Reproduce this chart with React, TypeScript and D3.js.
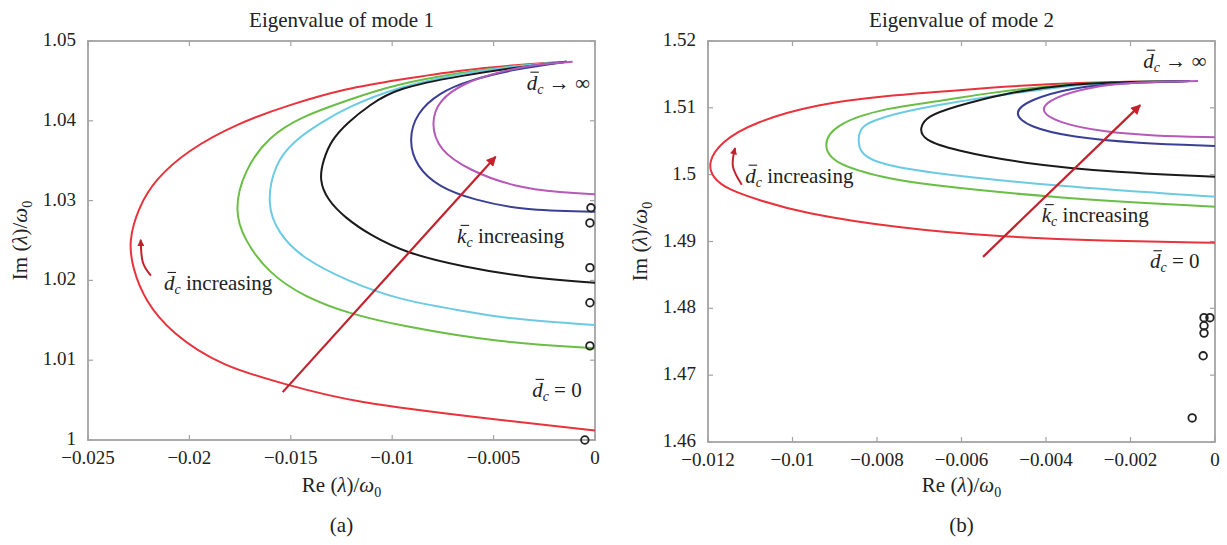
import * as d3 from 'd3'
import React from 'react'

type Pt = [number, number]

// mode 1 loci, [Re, Im], from d_c = 0 (right edge) round to d_c -> inf
const m1Red: Pt[] = [[0, 1.0012], [-0.0047, 1.0025], [-0.0122, 1.0048], [-0.0151, 1.0069], [-0.0184, 1.0092], [-0.0209, 1.0134], [-0.0222, 1.0175], [-0.0228, 1.0215], [-0.023, 1.025], [-0.0225, 1.0292], [-0.0217, 1.0326], [-0.0201, 1.0363], [-0.0176, 1.0397], [-0.0151, 1.042], [-0.0122, 1.0441], [-0.0098, 1.0451], [-0.0065, 1.0464], [-0.0039, 1.047], [-0.0014, 1.0474]]
const m1Green: Pt[] = [[0, 1.0115], [-0.0047, 1.0122], [-0.0096, 1.0143], [-0.0122, 1.0159], [-0.0143, 1.0179], [-0.0161, 1.0209], [-0.0173, 1.0251], [-0.0178, 1.0288], [-0.0173, 1.0338], [-0.0161, 1.038], [-0.0145, 1.0405], [-0.0122, 1.0426], [-0.0098, 1.0446], [-0.0065, 1.0461], [-0.0039, 1.0469], [-0.0014, 1.0474]]
const m1Cyan: Pt[] = [[0, 1.0144], [-0.0047, 1.0153], [-0.0065, 1.0162], [-0.0096, 1.0175], [-0.0122, 1.0199], [-0.0145, 1.0229], [-0.0156, 1.0259], [-0.0162, 1.0294], [-0.0158, 1.0347], [-0.0148, 1.0376], [-0.0135, 1.0398], [-0.0122, 1.0417], [-0.0098, 1.0442], [-0.0065, 1.046], [-0.0039, 1.0469], [-0.0014, 1.0474]]
const m1Black: Pt[] = [[0, 1.0197], [-0.0032, 1.0203], [-0.0065, 1.0217], [-0.0093, 1.0234], [-0.0111, 1.0257], [-0.0123, 1.0278], [-0.0132, 1.0301], [-0.0136, 1.0326], [-0.0134, 1.0351], [-0.013, 1.0376], [-0.0122, 1.0398], [-0.0111, 1.042], [-0.0098, 1.0441], [-0.0065, 1.0457], [-0.0039, 1.0467], [-0.0014, 1.0474]]
const m1Blue: Pt[] = [[0, 1.0286], [-0.0036, 1.0288], [-0.006, 1.0301], [-0.0077, 1.0317], [-0.0088, 1.0342], [-0.0092, 1.0376], [-0.0088, 1.041], [-0.0077, 1.0435], [-0.0062, 1.0451], [-0.0039, 1.0465], [-0.0014, 1.0474]]
const m1Purple: Pt[] = [[0, 1.0308], [-0.0016, 1.031], [-0.004, 1.0317], [-0.0062, 1.0338], [-0.0077, 1.0363], [-0.0081, 1.0397], [-0.0077, 1.0426], [-0.0065, 1.0447], [-0.0048, 1.0461], [-0.0029, 1.0471], [-0.0011, 1.0474]]
const m1Open: Pt[] = [[-0.0002, 1.0291], [-0.00025, 1.0272], [-0.00025, 1.0216], [-0.00025, 1.0172], [-0.00025, 1.0118], [-0.0005, 1.0]]

// mode 2 loci
const m2Red: Pt[] = [[0, 1.4898], [-0.0027, 1.4901], [-0.0051, 1.4907], [-0.0075, 1.492], [-0.0098, 1.4943], [-0.0108, 1.4962], [-0.0115, 1.4977], [-0.0119, 1.4995], [-0.012, 1.5019], [-0.0117, 1.5049], [-0.0109, 1.5079], [-0.0094, 1.5106], [-0.0078, 1.5118], [-0.0065, 1.5124], [-0.0054, 1.513], [-0.0038, 1.5136], [-0.0023, 1.5139], [-0.0006, 1.514]]
const m2Green: Pt[] = [[0, 1.4952], [-0.0038, 1.4965], [-0.007, 1.4986], [-0.0078, 1.4995], [-0.009, 1.5015], [-0.0093, 1.5044], [-0.009, 1.5076], [-0.0078, 1.51], [-0.0065, 1.511], [-0.0054, 1.5122], [-0.0038, 1.5134], [-0.0023, 1.5139], [-0.0006, 1.514]]
const m2Cyan: Pt[] = [[0, 1.4967], [-0.0038, 1.4983], [-0.007, 1.5004], [-0.0081, 1.5019], [-0.0084, 1.5034], [-0.00845, 1.5052], [-0.0084, 1.507], [-0.0081, 1.5082], [-0.007, 1.51], [-0.0054, 1.5116], [-0.0038, 1.5131], [-0.0023, 1.5139], [-0.0006, 1.514]]
const m2Black: Pt[] = [[0, 1.4997], [-0.0023, 1.5003], [-0.0046, 1.5017], [-0.0062, 1.5037], [-0.0069, 1.5052], [-0.007, 1.507], [-0.0068, 1.5088], [-0.0062, 1.5101], [-0.005, 1.5122], [-0.0034, 1.5136], [-0.002, 1.5139], [-0.0006, 1.514]]
const m2Blue: Pt[] = [[0, 1.5043], [-0.00185, 1.5047], [-0.0034, 1.5056], [-0.0044, 1.5071], [-0.0048, 1.5092], [-0.0044, 1.5112], [-0.0034, 1.513], [-0.0023, 1.5137], [-0.0006, 1.514]]
const m2Purple: Pt[] = [[0, 1.5056], [-0.00147, 1.5058], [-0.00265, 1.5064], [-0.0037, 1.5077], [-0.0042, 1.5097], [-0.0038, 1.5116], [-0.003, 1.5131], [-0.00185, 1.5139], [-0.0004, 1.514]]
const m2Open: Pt[] = [[-0.00026, 1.4786], [-0.00012, 1.4786], [-0.00026, 1.4774], [-0.00026, 1.4763], [-0.00028, 1.4729], [-0.00054, 1.4636]]

const lineColors = ['#e8323c', '#6abd45', '#6ccbe3', '#1a1a1a', '#3a3f94', '#b659b8']

const xTicks1 = [-0.025, -0.02, -0.015, -0.01, -0.005, 0]
const yTicks1 = [1, 1.01, 1.02, 1.03, 1.04, 1.05]
const xTicks2 = [-0.012, -0.01, -0.008, -0.006, -0.004, -0.002, 0]
const yTicks2 = [1.46, 1.47, 1.48, 1.49, 1.5, 1.51, 1.52]

// annotation anchors in data units
const arrow1: Pt[] = [[-0.0154, 1.006], [-0.0049, 1.0355]]
const curl1: Pt[] = [[-0.0219, 1.0206], [-0.0223, 1.0223], [-0.0224, 1.0251]]
const arrow2: Pt[] = [[-0.00549, 1.4877], [-0.00177, 1.5104]]
const curl2: Pt[] = [[-0.0112, 1.4985], [-0.01141, 1.5012], [-0.01136, 1.504]]

interface Note { sym: string; rest: string; at: Pt }
const notes1: Note[] = [
  { sym: 'd', rest: ' → ∞', at: [-0.00336, 1.0439] },
  { sym: 'k', rest: ' increasing', at: [-0.0068, 1.0247] },
  { sym: 'd', rest: ' = 0', at: [-0.0031, 1.0054] },
  { sym: 'd', rest: ' increasing', at: [-0.02125, 1.0188] },
]
const notes2: Note[] = [
  { sym: 'd', rest: ' → ∞', at: [-0.0017, 1.516] },
  { sym: 'd', rest: ' increasing', at: [-0.01112, 1.4988] },
  { sym: 'k', rest: ' increasing', at: [-0.0041, 1.4929] },
  { sym: 'd', rest: ' = 0', at: [-0.00154, 1.486] },
]

const FONT = "'Liberation Serif', 'DejaVu Serif', serif"
const AXIS = '#a3a3a3'
const ARROW = '#c3222c'
const FS = 19 // tick labels
const LS = 21 // titles, axis labels, notes

const fmt = (v: number) => String(v).replace('-', '\u2212')

interface PanelProps {
  id: string
  box: { left: number; right: number; top: number; bottom: number }
  xDomain: [number, number]
  yDomain: [number, number]
  xTicks: number[]
  yTicks: number[]
  curves: Pt[][]
  open: Pt[]
  arrow: Pt[]
  curl: Pt[]
  notes: Note[]
  title: string
  tag: string
  yLabelX: number
}

const Panel = (p: PanelProps) => {
  const { box } = p
  const x = d3.scaleLinear().domain(p.xDomain).range([box.left, box.right])
  const y = d3.scaleLinear().domain(p.yDomain).range([box.bottom, box.top])
  const line = d3
    .line<Pt>()
    .x(d => x(d[0]))
    .y(d => y(d[1]))
    .curve(d3.curveBasis)
  const curlLine = d3
    .line<Pt>()
    .x(d => x(d[0]))
    .y(d => y(d[1]))
    .curve(d3.curveNatural)
  const cx = (box.left + box.right) / 2
  const cy = (box.top + box.bottom) / 2
  const tl = 5

  return (
    <g>
      <defs>
        <marker id={`big-${p.id}`} viewBox="0 0 10 10" refX="9" refY="5" markerUnits="userSpaceOnUse" markerWidth="13" markerHeight="10" orient="auto">
          <path d="M0,0 L10,5 L0,10 z" fill={ARROW} />
        </marker>
        <marker id={`small-${p.id}`} viewBox="0 0 10 10" refX="9" refY="5" markerUnits="userSpaceOnUse" markerWidth="9" markerHeight="7" orient="auto">
          <path d="M0,0 L10,5 L0,10 z" fill={ARROW} />
        </marker>
      </defs>

      <text x={cx} y={27} textAnchor="middle" fontSize={LS} fontFamily={FONT} fill="#222">
        {p.title}
      </text>

      {/* frame and inward ticks */}
      <rect x={box.left} y={box.top} width={box.right - box.left} height={box.bottom - box.top} fill="none" stroke={AXIS} strokeWidth={1.8} />
      {p.xTicks.map(t => (
        <g key={`xt${t}`}>
          <line x1={x(t)} x2={x(t)} y1={box.bottom} y2={box.bottom - tl} stroke={AXIS} strokeWidth={1.2} />
          <line x1={x(t)} x2={x(t)} y1={box.top} y2={box.top + tl} stroke={AXIS} strokeWidth={1.2} />
          <text x={x(t)} y={box.bottom + 24} textAnchor="middle" fontSize={FS} fontFamily={FONT} fill="#222">
            {fmt(t)}
          </text>
        </g>
      ))}
      {p.yTicks.map(t => (
        <g key={`yt${t}`}>
          <line x1={box.left} x2={box.left + tl} y1={y(t)} y2={y(t)} stroke={AXIS} strokeWidth={1.2} />
          <line x1={box.right} x2={box.right - tl} y1={y(t)} y2={y(t)} stroke={AXIS} strokeWidth={1.2} />
          <text x={box.left - 12} y={y(t) + 5} textAnchor="end" fontSize={FS} fontFamily={FONT} fill="#222">
            {fmt(t)}
          </text>
        </g>
      ))}

      {/* loci */}
      {p.curves.map((c, i) => (
        <path key={`c${i}`} d={line(c) ?? ''} fill="none" stroke={lineColors[i]} strokeWidth={2} />
      ))}
      {p.open.map((d, i) => (
        <circle key={`o${i}`} cx={x(d[0])} cy={y(d[1])} r={3.8} fill="none" stroke="#222" strokeWidth={1.8} />
      ))}

      {/* arrows */}
      <line x1={x(p.arrow[0][0])} y1={y(p.arrow[0][1])} x2={x(p.arrow[1][0])} y2={y(p.arrow[1][1])} stroke={ARROW} strokeWidth={2.2} markerEnd={`url(#big-${p.id})`} />
      <path d={curlLine(p.curl) ?? ''} fill="none" stroke={ARROW} strokeWidth={2} markerEnd={`url(#small-${p.id})`} />

      {p.notes.map((n, i) => (
        <text key={`n${i}`} x={x(n.at[0])} y={y(n.at[1])} fontSize={LS} fontFamily={FONT} fill="#222">
          <tspan fontStyle="italic">{n.sym}</tspan>
          <tspan fontStyle="italic" fontSize={14} dy={4}>c</tspan>
          <tspan dy={-4}>{n.rest}</tspan>
        </text>
      ))}
      {p.notes.map((n, i) => (
        <line key={`b${i}`} x1={x(n.at[0]) + 3.5} x2={x(n.at[0]) + 12} y1={y(n.at[1]) - 17.5} y2={y(n.at[1]) - 17.5} stroke="#222" strokeWidth={1.1} />
      ))}

      {/* axis labels */}
      <text x={cx} y={492} textAnchor="middle" fontSize={LS} fontFamily={FONT} fill="#222">
        Re (<tspan fontStyle="italic">λ</tspan>)/<tspan fontStyle="italic">ω</tspan>
        <tspan fontSize={14} dy={5}>0</tspan>
      </text>
      <text transform={`translate(${p.yLabelX},${cy}) rotate(-90)`} textAnchor="middle" fontSize={LS} fontFamily={FONT} fill="#222">
        Im (<tspan fontStyle="italic">λ</tspan>)/<tspan fontStyle="italic">ω</tspan>
        <tspan fontSize={14} dy={5}>0</tspan>
      </text>
      <text x={cx} y={532} textAnchor="middle" fontSize={LS} fontFamily={FONT} fill="#222">
        {p.tag}
      </text>
    </g>
  )
}

export default function App() {
  return (
    <div style={{ position: 'absolute', left: 0, top: 0 }}>
      <svg width={1227} height={545} style={{ display: 'block', background: '#fff' }}>
        <Panel
          id="a"
          box={{ left: 88, right: 595, top: 41, bottom: 440 }}
          xDomain={[-0.025, 0]}
          yDomain={[1, 1.05]}
          xTicks={xTicks1}
          yTicks={yTicks1}
          curves={[m1Red, m1Green, m1Cyan, m1Black, m1Blue, m1Purple]}
          open={m1Open}
          arrow={arrow1}
          curl={curl1}
          notes={notes1}
          title="Eigenvalue of mode 1"
          tag="(a)"
          yLabelX={27}
        />
        <Panel
          id="b"
          box={{ left: 708, right: 1215, top: 41, bottom: 442 }}
          xDomain={[-0.012, 0]}
          yDomain={[1.46, 1.52]}
          xTicks={xTicks2}
          yTicks={yTicks2}
          curves={[m2Red, m2Green, m2Cyan, m2Black, m2Blue, m2Purple]}
          open={m2Open}
          arrow={arrow2}
          curl={curl2}
          notes={notes2}
          title="Eigenvalue of mode 2"
          tag="(b)"
          yLabelX={647}
        />
      </svg>
    </div>
  )
}
